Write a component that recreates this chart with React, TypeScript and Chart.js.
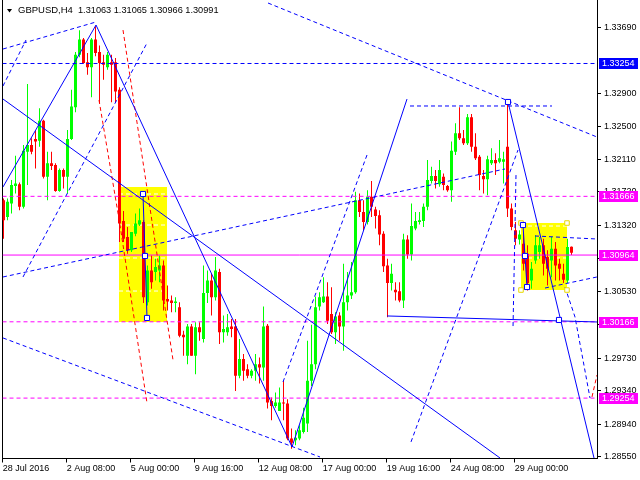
import React, { useEffect, useRef } from 'react';
import { Chart, registerables } from 'chart.js';

Chart.register(...registerables);

// ---- Candles (H4 bars, index 0..142) ----
const opens = [
  1.3162, 1.3142, 1.3158, 1.3179, 1.3181, 1.3154, 1.3220, 1.3228, 1.3235, 1.3233,
  1.3257, 1.3190, 1.3206, 1.3204, 1.3173, 1.3198, 1.3190, 1.3235, 1.3273, 1.3336,
  1.3354, 1.3327, 1.3321, 1.3354, 1.3339, 1.3327, 1.3321, 1.3327, 1.3327, 1.3294,
  1.3137, 1.3118, 1.3102, 1.3122, 1.3133, 1.3136, 1.3040, 1.3078, 1.3076, 1.3078,
  1.3084, 1.3044, 1.3042, 1.3039, 1.3034, 1.3001, 1.2976, 1.3011, 1.2976, 1.3010,
  1.2996, 1.3051, 1.3066, 1.3046, 1.3076, 1.3004, 1.3004, 1.3011, 1.3011, 1.2952,
  1.2972, 1.2960, 1.2952, 1.2958, 1.2966, 1.2962, 1.3012, 1.2922, 1.2916, 1.2910,
  1.2920, 1.2919, 1.2877, 1.2875, 1.2877, 1.2885, 1.2895, 1.2946, 1.2966, 1.3035,
  1.3040, 1.3047, 1.3026, 1.3004, 1.3024, 1.3011, 1.3040, 1.3048, 1.3052, 1.3162,
  1.3148, 1.3136, 1.3166, 1.3151, 1.3144, 1.3122, 1.3084, 1.3063, 1.3055, 1.3053,
  1.3042, 1.3115, 1.3097, 1.3128, 1.3136, 1.3137, 1.3154, 1.3185, 1.3191, 1.3181,
  1.3190, 1.3179, 1.3174, 1.3220, 1.3242, 1.3236, 1.3230, 1.3261, 1.3226, 1.3214,
  1.3191, 1.3187, 1.3206, 1.3210, 1.3208, 1.3208, 1.3226, 1.3152, 1.3126, 1.3115,
  1.3110, 1.3098, 1.3066, 1.3090, 1.3100, 1.3108, 1.3094, 1.3090, 1.3104, 1.3086,
  1.3074, 1.3066, 1.31063,
];
const highs = [
  1.3164, 1.3164, 1.3186, 1.3215, 1.3183, 1.3228, 1.3301, 1.3236, 1.3246, 1.3272,
  1.3258, 1.3220, 1.3220, 1.3206, 1.3200, 1.3200, 1.3246, 1.3294, 1.3339, 1.3365,
  1.3356, 1.3338, 1.3356, 1.3370, 1.3347, 1.3336, 1.3339, 1.3336, 1.3332, 1.3297,
  1.3149, 1.3130, 1.3124, 1.3146, 1.3152, 1.3138, 1.3084, 1.3096, 1.3092, 1.3096,
  1.3090, 1.3060, 1.3048, 1.3046, 1.3040, 1.3006, 1.3014, 1.3014, 1.3016, 1.3016,
  1.3084, 1.3078, 1.3074, 1.3094, 1.3080, 1.3024, 1.3026, 1.3020, 1.3020, 1.2996,
  1.2978, 1.2966, 1.2960, 1.2978, 1.2974, 1.3035, 1.3014, 1.2926, 1.2932, 1.2938,
  1.2946, 1.2924, 1.2889, 1.2887, 1.2893, 1.2914, 1.2994, 1.3013, 1.3047, 1.3052,
  1.3070, 1.3064, 1.3058, 1.3028, 1.3028, 1.3086, 1.3076, 1.3088, 1.3172, 1.3170,
  1.3162, 1.3174, 1.3185, 1.3154, 1.3150, 1.3125, 1.3092, 1.3086, 1.3064, 1.3064,
  1.3122, 1.3120, 1.3158, 1.3148, 1.3148, 1.3158, 1.3210, 1.3202, 1.3198, 1.3210,
  1.3194, 1.3180, 1.3232, 1.3254, 1.3273, 1.3246, 1.3265, 1.3265, 1.3242, 1.3216,
  1.3198, 1.3215, 1.3224, 1.3218, 1.3234, 1.3220, 1.3279, 1.3158, 1.3136, 1.3126,
  1.3124, 1.3108, 1.3088, 1.3120, 1.3118, 1.3116, 1.3102, 1.3118, 1.3112, 1.3092,
  1.3086, 1.3116, 1.31065,
];
const lows = [
  1.3116, 1.3138, 1.3146, 1.3170, 1.3150, 1.3152, 1.3180, 1.3217, 1.3200, 1.3226,
  1.3188, 1.3162, 1.3198, 1.3172, 1.3172, 1.3176, 1.3170, 1.3234, 1.3267, 1.3333,
  1.3325, 1.3312, 1.3285, 1.3334, 1.3278, 1.3306, 1.3318, 1.3279, 1.3279, 1.3112,
  1.3112, 1.3098, 1.3100, 1.3119, 1.3131, 1.3039, 1.3036, 1.3056, 1.3066, 1.3064,
  1.3030, 1.3030, 1.3028, 1.3028, 1.2998, 1.2976, 1.2966, 1.2976, 1.2954, 1.2994,
  1.2992, 1.3039, 1.3024, 1.3042, 1.2990, 1.2992, 1.3000, 1.2998, 1.2934, 1.2949,
  1.2946, 1.2949, 1.2949, 1.2946, 1.2943, 1.2946, 1.2913, 1.2899, 1.2914, 1.2910,
  1.2899, 1.2875, 1.2865, 1.2869, 1.2875, 1.2883, 1.2885, 1.2940, 1.2960, 1.3030,
  1.3039, 1.3014, 1.3002, 1.2990, 1.2994, 1.2982, 1.3030, 1.3044, 1.3050, 1.3142,
  1.3126, 1.3133, 1.3142, 1.3128, 1.3108, 1.3076, 1.3022, 1.3054, 1.3042, 1.3040,
  1.3033, 1.3092, 1.3090, 1.3126, 1.3133, 1.3130, 1.3150, 1.3182, 1.3176, 1.3178,
  1.3174, 1.3172, 1.3160, 1.3216, 1.3234, 1.3228, 1.3228, 1.3220, 1.3210, 1.3174,
  1.3170, 1.3168, 1.3204, 1.3192, 1.3206, 1.3182, 1.3142, 1.3126, 1.3108, 1.3109,
  1.3078, 1.3054, 1.3056, 1.3086, 1.3092, 1.3072, 1.3060, 1.3070, 1.3066, 1.3066,
  1.3063, 1.3063, 1.30966,
];
const closes = [
  1.3138, 1.3160, 1.3180, 1.3182, 1.3154, 1.3221, 1.3228, 1.3220, 1.3232, 1.3257,
  1.3190, 1.3206, 1.3203, 1.3173, 1.3198, 1.3190, 1.3235, 1.3274, 1.3336, 1.3354,
  1.3326, 1.3321, 1.3354, 1.3338, 1.3326, 1.3324, 1.3336, 1.3324, 1.3292, 1.3134,
  1.3116, 1.3102, 1.3124, 1.3134, 1.3138, 1.3046, 1.3078, 1.3064, 1.3082, 1.3084,
  1.3042, 1.3041, 1.3039, 1.3041, 1.3000, 1.2998, 1.3011, 1.2976, 1.3010, 1.3004,
  1.3051, 1.3066, 1.3046, 1.3078, 1.3004, 1.3008, 1.3010, 1.3008, 1.2952, 1.2972,
  1.2958, 1.2952, 1.2958, 1.2966, 1.2962, 1.3011, 1.2920, 1.2916, 1.2920, 1.2920,
  1.2919, 1.2877, 1.2872, 1.2878, 1.2887, 1.2902, 1.2946, 1.2966, 1.3034, 1.3046,
  1.3047, 1.3018, 1.3004, 1.3023, 1.3011, 1.3040, 1.3048, 1.3052, 1.3162, 1.3148,
  1.3136, 1.3166, 1.3154, 1.3143, 1.3121, 1.3083, 1.3063, 1.3074, 1.3052, 1.3042,
  1.3115, 1.3097, 1.3131, 1.3137, 1.3138, 1.3154, 1.3186, 1.3191, 1.3185, 1.3198,
  1.3180, 1.3174, 1.3221, 1.3242, 1.3236, 1.3230, 1.3261, 1.3226, 1.3212, 1.3192,
  1.3187, 1.3211, 1.3210, 1.3206, 1.3212, 1.3211, 1.3152, 1.3130, 1.3116, 1.3121,
  1.3086, 1.3063, 1.3080, 1.3108, 1.3108, 1.3086, 1.3080, 1.3104, 1.3084, 1.3080,
  1.3067, 1.3106, 1.30991,
];

// ---- Axes ----
const xTickPositions = [-0.2, 15.8, 31.8, 47.8, 63.8, 79.8, 95.8, 111.8, 127.8];
const xTickLabels = [
  '28 Jul 2016', '2 Aug 08:00', '5 Aug 00:00', '9 Aug 16:00', '12 Aug 08:00',
  '17 Aug 00:00', '19 Aug 16:00', '24 Aug 08:00', '29 Aug 00:00',
];
const yTickValues = [
  1.3369, 1.329, 1.325, 1.3211, 1.3172, 1.3132, 1.3092, 1.3053, 1.3013,
  1.2973, 1.2934, 1.2894, 1.2855,
];
const xMin = -0.25;
const xMax = 148.375;
const yMin = 1.28532;
const yMax = 1.34013;

// ---- Horizontal levels ----
const levelPrices = [1.33254, 1.31666, 1.30964, 1.30166, 1.29254];
const levelColors = ['#0000ff', '#ff00ff', '#ff00ff', '#ff00ff', '#ff00ff'];
const levelDashed = [true, true, false, true, true];

const titleSymbol = 'GBPUSD,H4';
const titleQuotes = '1.31063 1.31065 1.30966 1.30991';

// ---- Drawn objects (bar index, price) ----
const solidTrendA = [[-0.125, 1.32829], [124.125, 1.28538]];
const solidZigzag = [[-0.125, 1.31778], [23.125, 1.33714], [72.125, 1.2867], [100.875, 1.32829]];
const solidDrop = [[126.125, 1.32794], [147.625, 1.28538]];
const solidSupport = [[95.875, 1.30236], [148.375, 1.30164]];
const markerPath1 = [[34.875, 1.31694], [35.375, 1.30953], [35.875, 1.30212]];
const markerPath2 = [[129.875, 1.31323], [130.375, 1.30953], [130.875, 1.30582]];
const markerSquares = [
  [34.875, 1.31694], [35.375, 1.30953], [35.875, 1.30212], [126.125, 1.32794],
  [129.875, 1.31323], [130.375, 1.30953], [130.875, 1.30582], [138.875, 1.30188],
];

const blueDashed = [
  [[-0.125, 1.33427], [23.125, 1.3375]],
  [[-0.125, 1.32985], [5.625, 1.33535]],
  [[4.875, 1.30702], [35.875, 1.33499]],
  [[-0.125, 1.30702], [125.375, 1.31993]],
  [[-0.125, 1.29973], [79.125, 1.2855]],
  [[69.875, 1.29447], [90.875, 1.3216]],
  [[101.875, 1.2873], [128.625, 1.3222]],
  [[66.125, 1.33977], [148.375, 1.32375]],
  [[101.625, 1.32746], [137.125, 1.32746]],
  [[128.125, 1.3192], [127.375, 1.30092]],
  [[132.875, 1.31192], [148.375, 1.31156]],
  [[135.375, 1.3057], [148.375, 1.30702]],
  [[140.375, 1.30582], [142.875, 1.30224], [144.875, 1.2971], [146.625, 1.29255]],
];
const redDashed = [
  [[23.875, 1.32817], [29.125, 1.31323], [35.875, 1.29196]],
  [[29.875, 1.33654], [42.375, 1.2971]],
  [[147.125, 1.29268], [148.375, 1.2953]],
];

// yellow rectangles: [xStart, xEnd, top, bottom]
const yellowBoxes = [
  [28.875, 40.875, 1.31778, 1.30164],
  [129.375, 140.875, 1.31347, 1.30546],
];
const box1Levels = [1.31694, 1.31323, 1.30929, 1.30534];
const box2Levels = [1.31311, 1.30929];
const box2Handles = [
  [129.375, 1.31347], [140.875, 1.31347], [129.375, 1.30546], [140.875, 1.30546],
];

const GREEN = '#00ff00';
const RED = '#ff0000';
const BLUE = '#0000ff';
const FONT = 'Liberation Sans';

const pts = (arr: number[][]) => arr.map(([x, y]) => ({ x, y }));

function lineDs(points: number[][], color: string, dashed: boolean, order: number, extra: any = {}) {
  return {
    type: 'line',
    data: pts(points),
    borderColor: color,
    borderWidth: 1,
    borderDash: dashed ? [4, 3] : [],
    pointRadius: 0,
    tension: 0,
    fill: false,
    order,
    ...extra,
  };
}

const overlayPlugin = {
  id: 'mtOverlay',
  afterDraw(chart: any) {
    const ctx = chart.ctx;
    const y = chart.scales.y;
    ctx.save();
    // price labels
    ctx.font = `9px "${FONT}"`;
    ctx.textBaseline = 'middle';
    ctx.textAlign = 'left';
    levelPrices.forEach((p, i) => {
      const py = Math.round(y.getPixelForValue(p));
      ctx.fillStyle = levelColors[i];
      ctx.fillRect(599, py - 5, 39, 11);
      ctx.fillStyle = '#ffffff';
      ctx.fillText(p.toFixed(5), 602, py + 0.5);
    });
    // title
    ctx.fillStyle = '#000000';
    ctx.beginPath();
    ctx.moveTo(7, 9);
    ctx.lineTo(12, 9);
    ctx.lineTo(9.5, 12.5);
    ctx.closePath();
    ctx.fill();
    ctx.font = `9.5px "${FONT}"`;
    ctx.fillText(titleSymbol, 18, 10.5);
    ctx.font = `9.2px "${FONT}"`;
    ctx.fillText(titleQuotes, 78, 10.5);
    ctx.restore();
  },
};

export default function App() {
  const ref = useRef<HTMLCanvasElement>(null);

  useEffect(() => {
    const candleColors = closes.map((c, i) => (c >= opens[i] ? GREEN : RED));
    const datasets: any[] = [];

    yellowBoxes.forEach(([x1, x2, top, bottom]) => {
      datasets.push({
        type: 'line',
        data: pts([[x1, top], [x2, top]]),
        borderWidth: 0,
        borderColor: 'rgba(0,0,0,0)',
        backgroundColor: '#ffff00',
        fill: { value: bottom },
        pointRadius: 0,
        order: 100,
      });
    });
    box1Levels.forEach((p) =>
      datasets.push(lineDs([[yellowBoxes[0][0], p], [yellowBoxes[0][1], p]], '#ffffff', true, 90))
    );
    box2Levels.forEach((p) =>
      datasets.push(lineDs([[yellowBoxes[1][0], p], [yellowBoxes[1][1], p]], '#ffffff', true, 90))
    );

    datasets.push({
      type: 'bar',
      data: lows.map((l, i) => ({ x: i, y: [l, highs[i]] })),
      backgroundColor: candleColors,
      barThickness: 1,
      grouped: false,
      inflateAmount: 0,
      borderWidth: 0,
      minBarLength: 1,
      order: 60,
    });
    datasets.push({
      type: 'bar',
      data: opens.map((o, i) => ({ x: i, y: [o, closes[i]] })),
      backgroundColor: candleColors,
      barThickness: 3,
      grouped: false,
      inflateAmount: 0,
      borderWidth: 0,
      minBarLength: 1,
      order: 50,
    });

    levelPrices.forEach((p, i) =>
      datasets.push(lineDs([[xMin, p], [xMax, p]], levelColors[i], levelDashed[i], 40))
    );

    datasets.push(lineDs(solidTrendA, BLUE, false, 30));
    datasets.push(lineDs(solidZigzag, BLUE, false, 30));
    datasets.push(lineDs(solidDrop, BLUE, false, 30));
    datasets.push(lineDs(solidSupport, BLUE, false, 30));
    datasets.push(lineDs(markerPath1, BLUE, false, 30));
    datasets.push(lineDs(markerPath2, BLUE, false, 30));
    blueDashed.forEach((l) => datasets.push(lineDs(l, BLUE, true, 30)));
    redDashed.forEach((l) => datasets.push(lineDs(l, RED, true, 30)));

    datasets.push({
      type: 'line',
      data: pts(box2Handles),
      showLine: false,
      pointStyle: 'rect',
      pointRadius: 3.2,
      pointBorderWidth: 1,
      pointBorderColor: '#e8d800',
      pointBackgroundColor: '#ffffff',
      order: 12,
    });
    datasets.push({
      type: 'line',
      data: pts(markerSquares),
      showLine: false,
      pointStyle: 'rect',
      pointRadius: 3.6,
      pointBorderWidth: 1,
      pointBorderColor: BLUE,
      pointBackgroundColor: '#ffffff',
      order: 10,
    });

    const tickFont = { family: FONT, size: 9 };

    const chart = new Chart(ref.current as HTMLCanvasElement, {
      type: 'line',
      data: { datasets },
      options: {
        responsive: false,
        animation: false,
        devicePixelRatio: 1,
        events: [],
        layout: { padding: 0, autoPadding: false },
        plugins: { legend: { display: false }, tooltip: { enabled: false }, title: { display: false } },
        scales: {
          x: {
            type: 'linear',
            position: 'bottom',
            min: xMin,
            max: xMax,
            offset: false,
            afterBuildTicks: (s: any) => {
              s.ticks = xTickPositions.map((v) => ({ value: v }));
            },
            afterFit: (s: any) => {
              s.height = 21.5;
              s.paddingLeft = 0;
              s.paddingRight = 0;
            },
            ticks: {
              autoSkip: false,
              maxRotation: 0,
              minRotation: 0,
              align: 'start',
              padding: 1,
              color: '#000000',
              font: tickFont,
              callback: (_v: any, i: number) => xTickLabels[i],
            },
            grid: { display: true, drawOnChartArea: false, drawTicks: true, tickLength: 4, color: '#000000', offset: false },
            border: { display: true, color: '#000000', width: 1 },
          },
          y: {
            type: 'linear',
            position: 'right',
            min: yMin,
            max: yMax,
            afterBuildTicks: (s: any) => {
              s.ticks = yTickValues.map((v) => ({ value: v }));
            },
            afterFit: (s: any) => {
              s.width = 43;
              s.paddingTop = 0;
              s.paddingBottom = 0;
            },
            ticks: {
              autoSkip: false,
              padding: 3,
              color: '#000000',
              font: tickFont,
              callback: (v: any) => Number(v).toFixed(5),
            },
            grid: { display: true, drawOnChartArea: false, drawTicks: true, tickLength: 4, color: '#000000' },
            border: { display: true, color: '#000000', width: 1 },
          },
          yl: {
            type: 'linear',
            position: 'left',
            min: 0,
            max: 1,
            afterFit: (s: any) => {
              s.width = 2.5;
              s.paddingTop = 0;
              s.paddingBottom = 0;
            },
            ticks: { display: false },
            grid: { display: false },
            border: { display: true, color: '#000000', width: 1 },
          },
        },
      } as any,
      plugins: [overlayPlugin],
    } as any);

    return () => chart.destroy();
  }, []);

  return (
    <div style={{ position: 'fixed', left: 0, top: 0, width: 640, height: 480, background: '#ffffff' }}>
      <canvas ref={ref} width={640} height={480} style={{ display: 'block', width: 640, height: 480 }} />
    </div>
  );
}
